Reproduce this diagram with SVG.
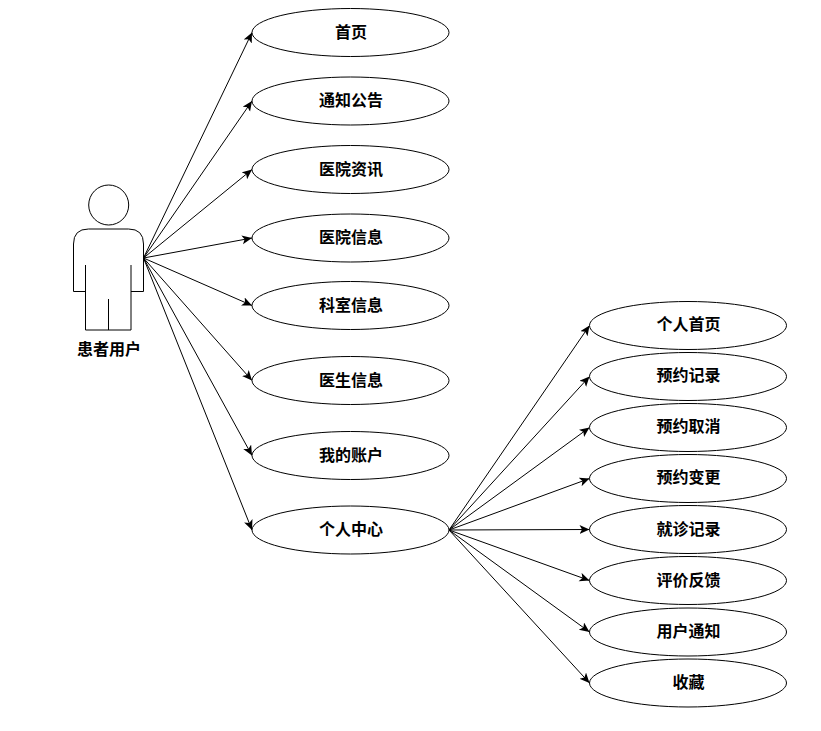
<svg xmlns="http://www.w3.org/2000/svg" width="821" height="731" viewBox="0 0 821 731">
<style>
.n{fill:#fff;stroke:#000;stroke-width:1}
.a{fill:none;stroke:#000;stroke-width:1;marker-end:url(#ah)}
.s{fill:none;stroke:#000;stroke-width:1}
text{font-family:"Noto Sans CJK SC","Liberation Sans",sans-serif;font-size:16px;font-weight:700;fill:#000;text-anchor:middle}
</style>
<defs><marker id="ah" markerUnits="userSpaceOnUse" markerWidth="12" markerHeight="10" refX="10" refY="4.500" orient="auto"><path d="M0 0L10 4.500L0 9L2.500 4.500Z" fill="#000"/></marker></defs>
<rect width="821" height="731" fill="#fff"/>
<g id="connectors">
<path class="a" d="M143.500 258L252 32.500"/>
<path class="a" d="M143.500 258L252 101"/>
<path class="a" d="M143.500 258L252 169.500"/>
<path class="a" d="M143.500 258L252 238"/>
<path class="a" d="M143.500 258L252 305.500"/>
<path class="a" d="M143.500 258L252 380.500"/>
<path class="a" d="M143.500 258L252 455.500"/>
<path class="a" d="M143.500 258L252 530"/>
<path class="a" d="M449 530L589.500 325.500"/>
<path class="a" d="M449 530L589.500 376.500"/>
<path class="a" d="M449 530L589.500 427.500"/>
<path class="a" d="M449 530L589.500 478.500"/>
<path class="a" d="M449 530L589.500 529.500"/>
<path class="a" d="M449 530L589.500 580.500"/>
<path class="a" d="M449 530L589.500 632"/>
<path class="a" d="M449 530L589.500 683"/>
</g>
<g id="actor">
<circle class="s" cx="108.700" cy="205" r="20"/>
<path class="s" d="M85.500 291.500H73.500V244Q73.500 229 88.500 229H128.500Q143.500 229 143.500 244V291.500H131M85.500 265V330H131V265M108.500 299V330"/>
<text x="109" y="355">患者用户</text>
</g>
<g id="n1"><ellipse class="n" cx="350.500" cy="32.500" rx="98.500" ry="24"/><text x="351" y="38">首页</text></g>
<g id="n2"><ellipse class="n" cx="350.500" cy="101" rx="98.500" ry="24"/><text x="351" y="106">通知公告</text></g>
<g id="n3"><ellipse class="n" cx="350.500" cy="169.500" rx="98.500" ry="24"/><text x="351" y="174.500">医院资讯</text></g>
<g id="n4"><ellipse class="n" cx="350.500" cy="238" rx="98.500" ry="24"/><text x="351" y="243">医院信息</text></g>
<g id="n5"><ellipse class="n" cx="350.500" cy="305.500" rx="98.500" ry="24"/><text x="351" y="310.500">科室信息</text></g>
<g id="n6"><ellipse class="n" cx="350.500" cy="380.500" rx="98.500" ry="24"/><text x="351" y="385.500">医生信息</text></g>
<g id="n7"><ellipse class="n" cx="350.500" cy="455.500" rx="98.500" ry="24"/><text x="351" y="460.500">我的账户</text></g>
<g id="n8"><ellipse class="n" cx="350.500" cy="530" rx="98.500" ry="24"/><text x="351" y="534.500">个人中心</text></g>
<g id="m1"><ellipse class="n" cx="688" cy="325.500" rx="98.500" ry="24"/><text x="688.500" y="329.500">个人首页</text></g>
<g id="m2"><ellipse class="n" cx="688" cy="376.500" rx="98.500" ry="24"/><text x="688.500" y="380.500">预约记录</text></g>
<g id="m3"><ellipse class="n" cx="688" cy="427.500" rx="98.500" ry="24"/><text x="688.500" y="431.500">预约取消</text></g>
<g id="m4"><ellipse class="n" cx="688" cy="478.500" rx="98.500" ry="24"/><text x="688.500" y="482.500">预约变更</text></g>
<g id="m5"><ellipse class="n" cx="688" cy="529.500" rx="98.500" ry="24"/><text x="688.500" y="534.500">就诊记录</text></g>
<g id="m6"><ellipse class="n" cx="688" cy="580.500" rx="98.500" ry="24"/><text x="688.500" y="586">评价反馈</text></g>
<g id="m7"><ellipse class="n" cx="688" cy="632" rx="98.500" ry="24"/><text x="688.500" y="637">用户通知</text></g>
<g id="m8"><ellipse class="n" cx="688" cy="683" rx="98.500" ry="24"/><text x="688.500" y="688">收藏</text></g>
</svg>
